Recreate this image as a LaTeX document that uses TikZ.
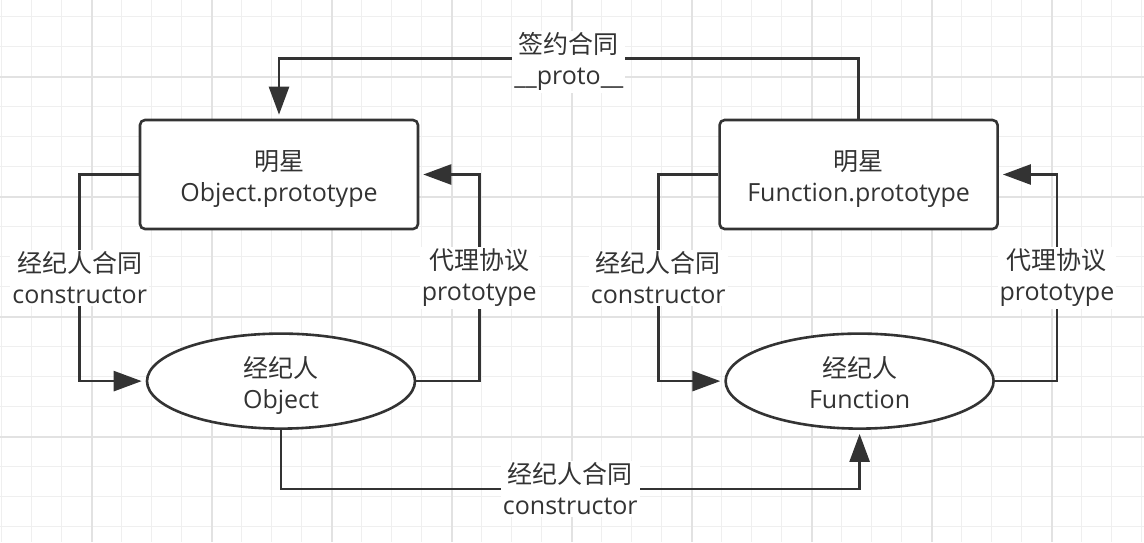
\documentclass[tikz,border=0pt]{standalone}
\usepackage{fontspec}
\setmainfont{Open Sans}
\newfontfamily\cjk{Noto Sans CJK SC}
\usetikzlibrary{arrows.meta,positioning,shapes.geometric}
\definecolor{ink}{HTML}{333333}
\definecolor{gridminor}{HTML}{EFEFEF}
\definecolor{gridmajor}{HTML}{E2E2E2}

\begin{document}
\begin{tikzpicture}[x=0.5pt,y=-0.5pt,>={Triangle[length=14pt,width=10pt]},every node/.append style={align=center,text=ink,font=\fontsize{12.5}{15.5}\selectfont},star/.style={rectangle,draw=ink,fill=white,line width=1.3pt,rounded corners=2.5pt,minimum width=139pt,minimum height=54.5pt,text height=27pt,text depth=0pt},
  agent/.style={ellipse,draw=ink,fill=white,line width=1.3pt,minimum width=134pt,minimum height=47.5pt,inner sep=0pt,text height=27pt,text depth=0pt},link/.style={->,draw=ink,line width=1.3pt,shorten >=2pt},lbl/.style={fill=white,inner sep=1pt}]
    \fill[white] (0,0) rectangle (1144,542);
    \useasboundingbox (0,0) rectangle (1144,542);
    \foreach \k in {0,...,38} \draw[gridminor, line width=0.7pt] (1.7+30*\k,0) -- (1.7+30*\k,542);
    \foreach \k in {0,...,17} \draw[gridminor, line width=0.7pt] (0,16.7+30*\k) -- (1144,16.7+30*\k);
    \foreach \k in {0,...,8} \draw[gridmajor, line width=0.8pt] (91.7+120*\k,0) -- (91.7+120*\k,542);
    \foreach \k in {0,...,3} \draw[gridmajor, line width=0.8pt] (0,76.7+120*\k) -- (1144,76.7+120*\k);
    \node [star] (ObjProto) at (279,174.5) {{\cjk 明星}\\Object.prototype};
    \node [star, right=149.5pt of ObjProto] (FunProto) {{\cjk 明星}\\Function.prototype};
    \node [agent, below=51pt of ObjProto, xshift=1pt] (ObjAgent) {{\cjk 经纪人}\\Object};
    \node [agent, below=51pt of FunProto, xshift=0.5pt] (FunAgent) {{\cjk 经纪人}\\Function};
    \draw[link] (FunProto.north) -- ++(0,-60) -| node[lbl, pos=0.25, yshift=-1.5pt] {{\cjk 签约合同}\\\_\_proto\_\_} (ObjProto.north);
    \draw[link] (ObjAgent.south) -- ++(0,59) -| node[lbl, pos=0.25] {{\cjk 经纪人合同}\\constructor} (FunAgent.south);
    \draw[link] (ObjProto.west) -- ++(-59,0) |- node[lbl, pos=0.25] {{\cjk 经纪人合同}\\constructor} (ObjAgent.west);
    \draw[link] (ObjAgent.east) -| node[lbl, pos=0.75] {{\cjk 代理协议}\\prototype} ([xshift=30pt]ObjProto.east) -- (ObjProto.east);
    \draw[link] (FunProto.west) -- ++(-60,0) |- node[lbl, pos=0.25] {{\cjk 经纪人合同}\\constructor} (FunAgent.west);
    \draw[link] (FunAgent.east) -| node[lbl, pos=0.75] {{\cjk 代理协议}\\prototype} ([xshift=29pt]FunProto.east) -- (FunProto.east);
\end{tikzpicture}
\end{document}
